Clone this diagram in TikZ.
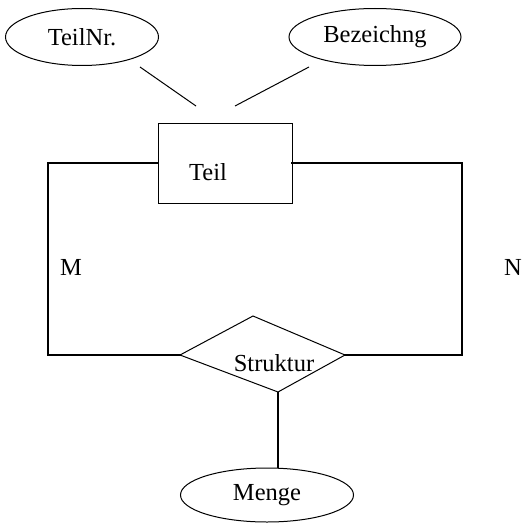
\documentclass[tikz,border=0pt]{standalone}
\usepackage{fontspec}
\setmainfont{Liberation Serif}
\usetikzlibrary{shapes.geometric}
\tikzset{
  attr/.style={draw,ellipse,line width=1pt,inner sep=0pt,minimum width=153pt,minimum height=57pt},
  ent/.style={draw,rectangle,line width=1pt,minimum width=134pt,minimum height=80pt,inner sep=0pt},
  lbl/.style={inner sep=0pt},
  thin line/.style={line width=1pt},
  rel line/.style={line width=2.4pt,line cap=rect}
}

\begin{document}
\begin{tikzpicture}[x=1pt,y=-1pt,font=\fontsize{24.5}{29}\selectfont]
\useasboundingbox (0,0) rectangle (532,524);
% attributes
\node[attr] (teilnr) at (82,37) {TeilNr.};
\node[attr,minimum width=172pt] (bez) at (375,37) {Bezeichng};
\node[attr,minimum width=173pt,minimum height=54pt] (menge) at (267,495) {Menge};
% entity
\node[ent] (teil) at (225,163) {};
\node[lbl] (teillbl) at (208,172) {Teil};
% relationship
\coordinate (dl) at (180,355);
\coordinate (dt) at (253,316);
\coordinate (dr) at (345,355);
\coordinate (db) at (278,392);
\draw[thin line,line join=miter] (dl) -- (dt) -- (dr) -- (db) -- cycle;
\node[lbl] (struktur) at (274,363) {Struktur};
% attribute links
\coordinate (a1) at (140,67); \coordinate (a2) at (196,106);
\coordinate (b1) at (309,67); \coordinate (b2) at (235,106);
\draw[thin line] (a1) -- (a2);
\draw[thin line] (b1) -- (b2);
% relationship links
\draw[rel line] (teil.west) -| (48,355) -- (dl);
\draw[rel line] (teil.east) -| (462,355) -- (dr);
\draw[rel line,line cap=butt] (db) -- (db |- menge.north);
% cardinalities
\node[lbl] (m) at (71,267) {M};
\node[lbl] (n) at (513,267) {N};
\end{tikzpicture}
\end{document}
